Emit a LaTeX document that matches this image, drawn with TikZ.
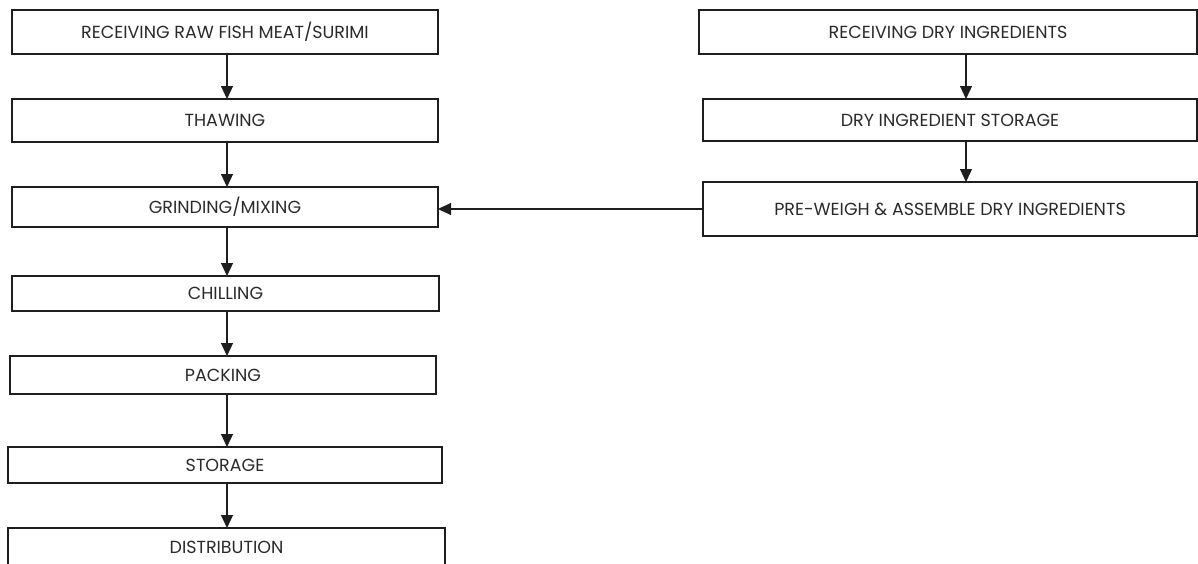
\documentclass[tikz,border=0pt]{standalone}
\usepackage{fontspec}
\setmainfont{Poppins}
\usetikzlibrary{arrows.meta}
\definecolor{ink}{HTML}{1E1E1E}
\definecolor{txt}{HTML}{2A2A2A}
\tikzset{
  box/.style={draw=ink, line width=1.2pt, rectangle, inner sep=0pt, outer sep=0pt,
    font=\fontsize{17.5}{20}\selectfont, text=txt},
  arr/.style={draw=ink, line width=1.2pt, -{Triangle[length=13pt,width=12pt]}}
}
\begin{document}
\begin{tikzpicture}[x=1pt,y=-1pt]
\useasboundingbox (0,0) rectangle (1198,563);
\clip (0,0) rectangle (1198,563);
% left column
\node[box, minimum width=426pt, minimum height=44pt] (b1) at (225,32) {RECEIVING RAW FISH MEAT/SURIMI};
\node[box, minimum width=426pt, minimum height=43pt] (b2) at (225,120.5) {THAWING};
\node[box, minimum width=426pt, minimum height=40pt] (b3) at (225,207) {GRINDING/MIXING};
\node[box, minimum width=427pt, minimum height=35pt] (b4) at (225.5,293.5) {CHILLING};
\node[box, minimum width=426pt, minimum height=38pt] (b5) at (223,375) {PACKING};
\node[box, minimum width=434pt, minimum height=36pt] (b6) at (225,465) {STORAGE};
\node[box, minimum width=437pt, minimum height=38pt] (b7) at (226.5,547) {DISTRIBUTION};
% right column
\node[box, minimum width=498pt, minimum height=44pt] (r1) at (948,32) {RECEIVING DRY INGREDIENTS};
\node[box, minimum width=494pt, minimum height=42pt] (r2) at (950,120) {DRY INGREDIENT STORAGE};
\node[box, minimum width=494pt, minimum height=54pt] (r3) at (950,209) {PRE-WEIGH \& ASSEMBLE DRY INGREDIENTS};
% axes for connectors
\coordinate (lx) at (227,0);
\coordinate (rx) at (966,0);
\draw[arr] (b1.south -| lx) -- (b2.north -| lx);
\draw[arr] (b2.south -| lx) -- (b3.north -| lx);
\draw[arr] (b3.south -| lx) -- (b4.north -| lx);
\draw[arr] (b4.south -| lx) -- (b5.north -| lx);
\draw[arr] (b5.south -| lx) -- (b6.north -| lx);
\draw[arr] (b6.south -| lx) -- (b7.north -| lx);
\draw[arr] (r1.south -| rx) -- (r2.north -| rx);
\draw[arr] (r2.south -| rx) -- (r3.north -| rx);
\draw[arr] (r3.west) -- (r3.west -| b3.east);
\end{tikzpicture}
\end{document}
